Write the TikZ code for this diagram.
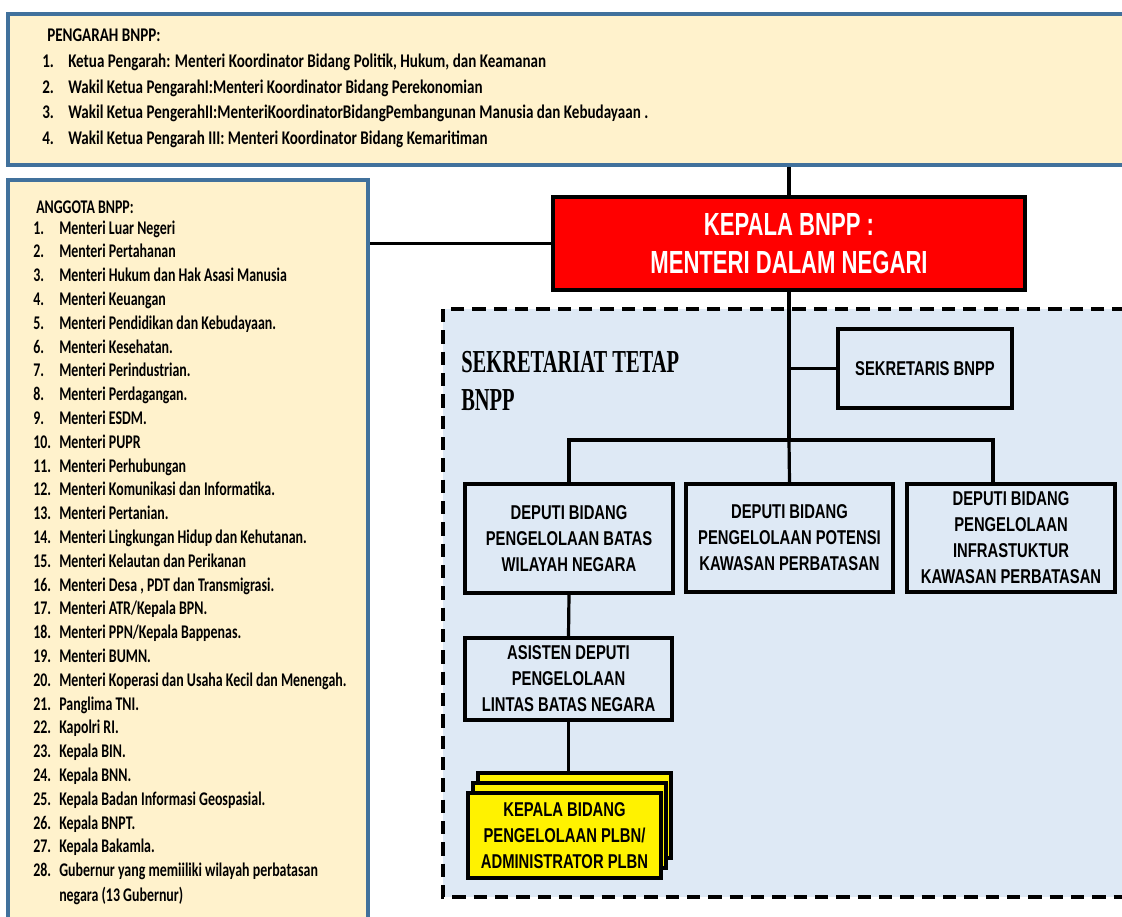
\documentclass[tikz,border=0pt]{standalone}
\usepackage{fontspec}
\usetikzlibrary{positioning,shadows}
\newfontfamily\listfont{Carlito}[FakeStretch=0.72]
\newfontfamily\headfont{Carlito}[FakeStretch=0.78]
\newfontfamily\boxfont{Liberation Sans}[FakeStretch=0.74]
\newfontfamily\titlefont{Liberation Serif}[FakeStretch=0.64]
\definecolor{kuning}{RGB}{255,242,204}
\definecolor{biru}{RGB}{65,113,156}
\definecolor{birumuda}{RGB}{222,233,245}
\tikzset{
	daftar/.style={anchor=base west,inner sep=0pt,font=\listfont\bfseries\fontsize{14.5}{17}\selectfont},
	daftaratas/.style={daftar,font=\headfont\bfseries\fontsize{14.5}{17}\selectfont},
	panel/.style={draw=biru,line width=3pt,fill=kuning,inner sep=0pt},
	kotak/.style={draw=black,line width=3pt,fill=birumuda,align=center,inner sep=0pt,
		font=\boxfont\bfseries\fontsize{15}{19.5}\selectfont},
	salinan/.style={copy shadow={shadow xshift=#1,shadow yshift=2*#1,fill=yellow,draw=black,line width=3pt}},
	garis/.style={line width=2.4pt},
}
\begin{document}
\begin{tikzpicture}[x=.75pt,y=-.75pt]
				\useasboundingbox (0,0) rectangle (1122,917);
				%\draw[red] (0,0) rectangle (1122,917);
				
				\node[panel,minimum width=841.5pt,minimum height=113.25pt] (pengarah) at (569,89.5) {};
				\node[panel,minimum width=270pt,minimum height=566.25pt] (anggota) at (188,557.5) {};
				\draw[dashed,dash pattern=on 10pt off 6pt,line width=3pt,fill=birumuda] (443,309) rectangle (1135,897);
				
				\node[daftaratas] (judulp) at (47,41.5) {PENGARAH BNPP:};
				\foreach \teks [count=\i] in {{Ketua Pengarah: Menteri Koordinator Bidang Politik, Hukum, dan Keamanan},
					{Wakil Ketua PengarahI:Menteri Koordinator Bidang Perekonomian},
					{Wakil Ketua PengerahII:MenteriKoordinatorBidangPembangunan Manusia dan Kebudayaan .},
					{Wakil Ketua Pengarah III: Menteri Koordinator Bidang Kemaritiman}}
				{
					\node[daftaratas] (pn\i) at (42,{67.5+25.7*(\i-1)}) {\i.};
					\node[daftaratas] (pt\i) at (68,{67.5+25.7*(\i-1)}) {\teks};
				}
				
				\node[daftar] (judula) at (36,214) {ANGGOTA BNPP:};
				\foreach \teks [count=\i] in {{Menteri Luar Negeri},{Menteri Pertahanan},{Menteri Hukum dan Hak Asasi Manusia},
					{Menteri Keuangan},{Menteri Pendidikan dan Kebudayaan.},{Menteri Kesehatan.},{Menteri Perindustrian.},
					{Menteri Perdagangan.},{Menteri ESDM.},{Menteri PUPR},{Menteri Perhubungan},
					{Menteri Komunikasi dan Informatika.},{Menteri Pertanian.},{Menteri Lingkungan Hidup dan Kehutanan.},
					{Menteri Kelautan dan Perikanan},{Menteri Desa , PDT dan Transmigrasi.},{Menteri ATR/Kepala BPN.},
					{Menteri PPN/Kepala Bappenas.},{Menteri BUMN.},{Menteri Koperasi dan Usaha Kecil dan Menengah.},
					{Panglima TNI.},{Kapolri RI.},{Kepala BIN.},{Kepala BNN.},{Kepala Badan Informasi Geospasial.},
					{Kepala BNPT.},{Kepala Bakamla.},{Gubernur yang memiiliki wilayah perbatasan}}
				{
					\node[daftar] (an\i) at (33,{234+23.8*(\i-1)}) {\i.};
					\node[daftar] (at\i) at (59,{234+23.8*(\i-1)}) {\teks};
				}
				\node[daftar] (at28b) at (59,901) {negara (13 Gubernur)};
				
				\node[kotak,fill=red,line width=3.5pt,minimum width=354pt,minimum height=69.75pt,text=white,
					font=\boxfont\bfseries\fontsize{24}{29}\selectfont] (kepala) at (789,243.5) {\addfontfeature{FakeStretch=0.69}KEPALA BNPP :\\\addfontfeature{FakeStretch=0.69}MENTERI DALAM NEGARI};
				\node[anchor=north west,inner sep=0pt,align=left,font=\titlefont\bfseries\fontsize{24}{28.5}\selectfont]
					(sekretariat) at (461,351) {SEKRETARIAT TETAP\\BNPP};
				\node[kotak,minimum width=130.5pt,minimum height=59.25pt] (sekretaris) at (925,368.5) {SEKRETARIS BNPP};
				
				\node[kotak,minimum width=156pt,minimum height=81.75pt] (deputi1) at (569,538.5) {DEPUTI BIDANG\\PENGELOLAAN BATAS\\WILAYAH NEGARA};
				\node[kotak,minimum width=155.25pt,minimum height=81pt] (deputi2) at (789.5,538) {DEPUTI BIDANG\\PENGELOLAAN POTENSI\\KAWASAN PERBATASAN};
				\node[kotak,minimum width=156pt,minimum height=81pt] (deputi3) at (1011,538) {DEPUTI BIDANG\\PENGELOLAAN\\INFRASTUKTUR\\KAWASAN PERBATASAN};
				\node[kotak,minimum width=155.25pt,minimum height=61.5pt] (asisten) at (568.5,679) {ASISTEN DEPUTI\\PENGELOLAAN\\LINTAS BATAS NEGARA};
				\node[kotak,fill=yellow,salinan=7.5pt,salinan=3.75pt,minimum width=144.75pt,minimum height=63.75pt]
					(kabid) at (564.5,835.5) {KEPALA BIDANG\\PENGELOLAAN PLBN/\\ADMINISTRATOR PLBN};
				
				\coordinate (bus) at (789,440);
				\coordinate[xshift=-13.5pt] (d3top) at (deputi3.north);
				\coordinate[yshift=15pt] (kabidtop) at (kabid.north);
				
				\draw[garis] (pengarah.south -| kepala.north) -- (kepala.north);
				\draw[garis] (kepala.west) -- (kepala.west -| anggota.east);
				\draw[garis] (kepala.south) -- (bus);
				\draw[garis] (kepala.south |- sekretaris.west) -- (sekretaris.west);
				\draw[garis] (deputi1.north) |- (bus) -| (d3top);
				\draw[garis] (bus) -- (deputi2.north);
				\draw[garis] (deputi1.south) -- (asisten.north);
				\draw[garis] (asisten.south) -- (asisten.south |- kabidtop);
			\end{tikzpicture}
\end{document}
